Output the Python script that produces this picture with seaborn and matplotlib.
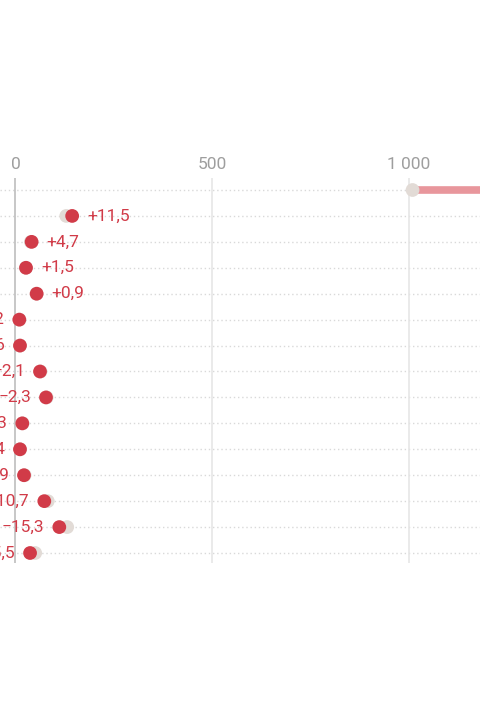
import numpy as np
import pandas as pd
import seaborn as sns
import matplotlib.pyplot as plt

# %%
# rows are cut off on the left in the reference, so just ids
rows = list('ABCDEFGHIJKLMNO')
start_vals = [1009, 129, 39, 26.3, 53.3, 9.9, 11.6, 63.6, 79.3, 17.9, 11.9, 23.2, 82, 131.4, 50]
end_vals = [1350, 144, 41, 26.7, 53.8, 9.7, 11.4, 62.3, 77.5, 17.3, 11.4, 21.6, 73.2, 111.3, 37]
change_labels = ['+33,8', '+11,5', '+4,7', '+1,5', '+0,9', '\u22121,2', '\u22121,6', '\u22122,1',
                 '\u22122,3', '\u22123,3', '\u22124,4', '\u22126,9', '\u221210,7', '\u221215,3', '\u221225,5']
x_ticks = [0, 500, 1000]
x_tick_labels = ['0', '500', '1 000']

GREY_DOT = '#e2dbd6'
RED_DOT = '#d13b48'
RED_LINE = '#e8969c'
TEXT_GREY = '#9e9e9e'

# %%
sns.set_theme(style='white')
plt.rcParams['font.family'] = ['Roboto', 'DejaVu Sans']

df = pd.DataFrame({
    'row': rows * 2,
    'pos': list(range(len(rows))) * 2,
    'value': start_vals + end_vals,
    'kind': ['start'] * len(rows) + ['end'] * len(rows),
})

fig = plt.figure(figsize=(4.8, 7.2), dpi=100)
ax = fig.add_axes([0, 1 - 563 / 720, 1, (563 - 178) / 720])

# dotted row lines and vertical grid
for i in range(len(rows)):
    ax.axhline(i, color='#d9d9d9', lw=1, ls=(0, (1, 2)), zorder=0)
for t in x_ticks:
    ax.axvline(t, color='#bdbdbd' if t == 0 else '#e6e6e6', lw=1.2, zorder=0)

ax.hlines(range(len(rows)), start_vals, end_vals, color=RED_LINE, lw=5.5, zorder=1)

sns.scatterplot(data=df, x='value', y='pos', hue='kind',
                palette={'start': GREY_DOT, 'end': RED_DOT},
                s=98, linewidth=0, legend=False, zorder=2, ax=ax)

# change labels: right of dot for growth, left for decline
px_per_unit = 0.3935
off = 15 / px_per_unit
for i, (s, e, lab) in enumerate(zip(start_vals, end_vals, change_labels)):
    if e >= s:
        ax.text(max(s, e) + off, i, lab, color=RED_DOT, fontsize=12.5,
                ha='left', va='center', clip_on=False)
    else:
        ax.text(e - off, i, lab, color=RED_DOT, fontsize=12.5,
                ha='right', va='center', clip_on=False)

ax.set_xlim((0 - 15.5) / px_per_unit, (480 - 15.5) / px_per_unit)
ax.set_ylim(14 + 10 / 25.93, -12 / 25.93)

ax.xaxis.tick_top()
ax.set_xticks(x_ticks)
ax.set_xticklabels(x_tick_labels)
ax.tick_params(axis='x', length=0, pad=4, labelsize=12.5, colors=TEXT_GREY)
ax.set_yticks([])
ax.set_xlabel('')
ax.set_ylabel('')
sns.despine(ax=ax, left=True, bottom=True, top=True, right=True)

plt.savefig('out.png', dpi=100)
